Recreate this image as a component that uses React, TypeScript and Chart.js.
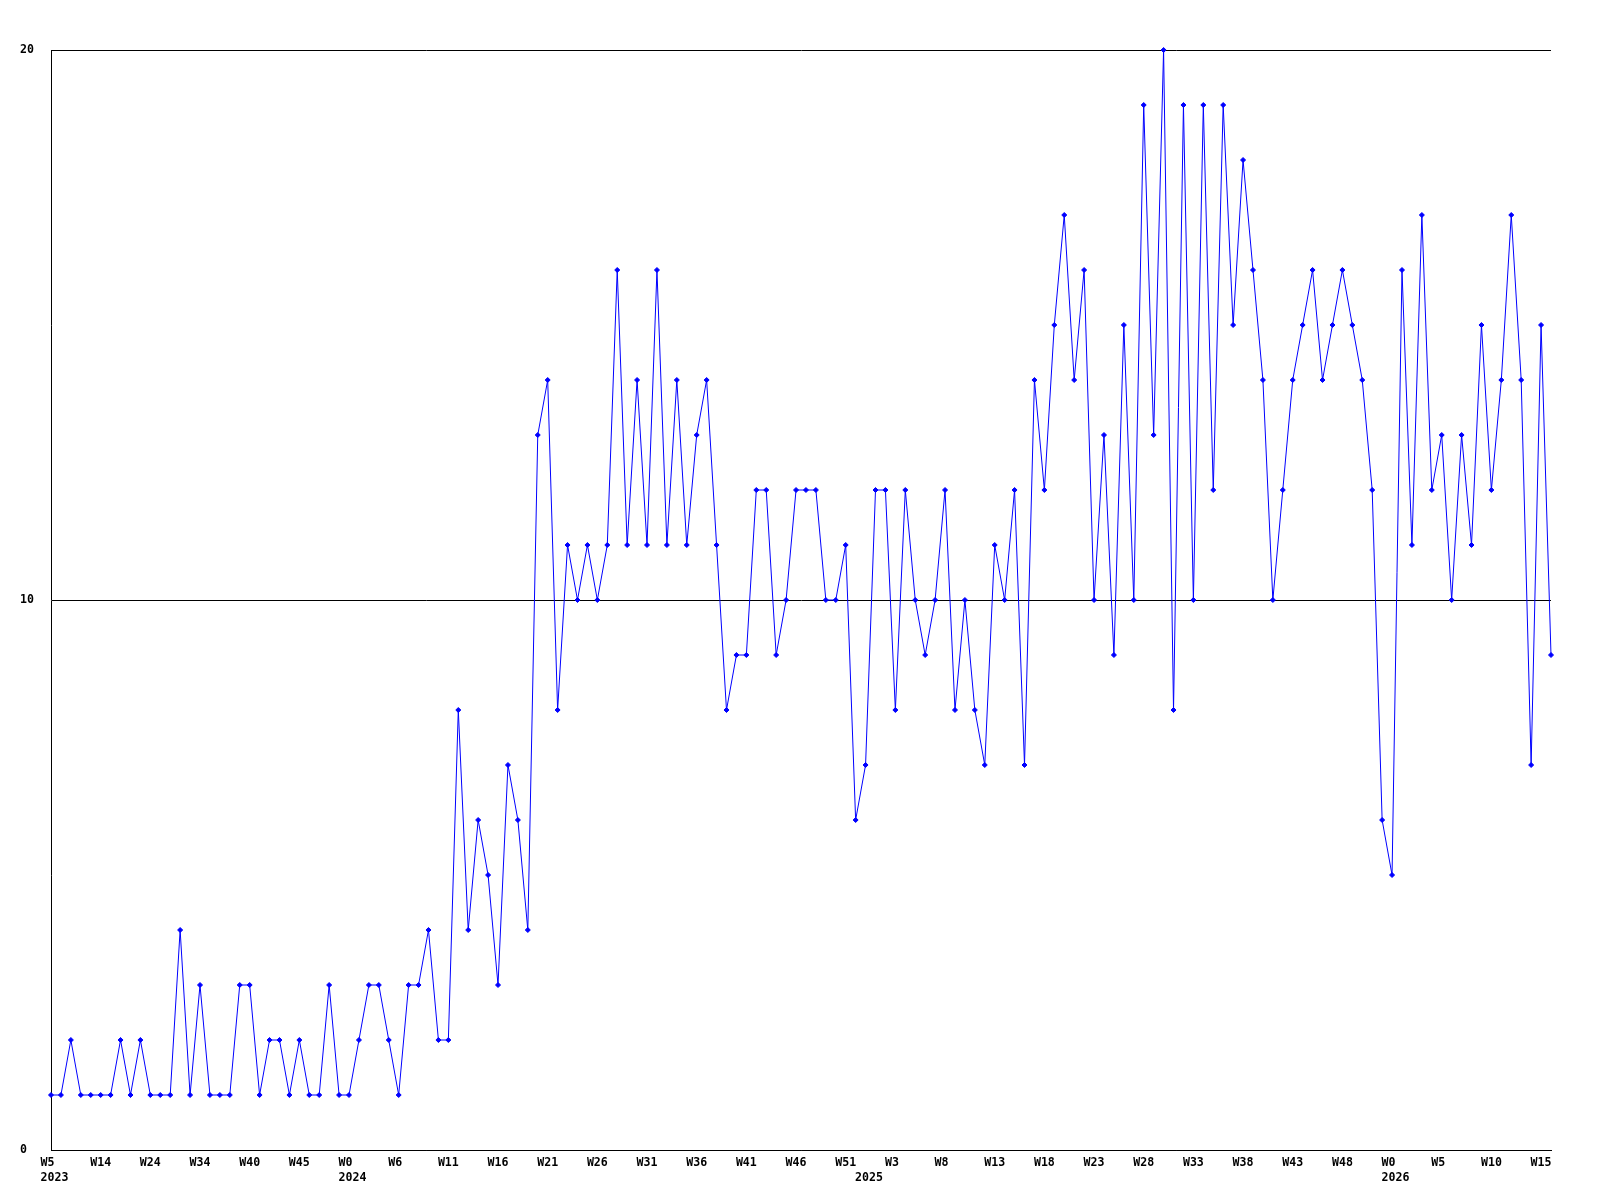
import React, { useEffect, useRef } from 'react';
import { Chart, registerables } from 'chart.js';

Chart.register(...registerables);

// Weekly counts, one value per point (152 points)
const counts: number[] = [
  1, 1, 2, 1, 1, 1, 1, 2, 1, 2,
  1, 1, 1, 4, 1, 3, 1, 1, 1, 3,
  3, 1, 2, 2, 1, 2, 1, 1, 3, 1,
  1, 2, 3, 3, 2, 1, 3, 3, 4, 2,
  2, 8, 4, 6, 5, 3, 7, 6, 4, 13,
  14, 8, 11, 10, 11, 10, 11, 16, 11, 14,
  11, 16, 11, 14, 11, 13, 14, 11, 8, 9,
  9, 12, 12, 9, 10, 12, 12, 12, 10, 10,
  11, 6, 7, 12, 12, 8, 12, 10, 9, 10,
  12, 8, 10, 8, 7, 11, 10, 12, 7, 14,
  12, 15, 17, 14, 16, 10, 13, 9, 15, 10,
  19, 13, 20, 8, 19, 10, 19, 12, 19, 15,
  18, 16, 14, 10, 12, 14, 15, 16, 14, 15,
  16, 15, 14, 12, 6, 5, 16, 11, 17, 12,
  13, 10, 13, 11, 15, 12, 14, 17, 14, 7,
  15, 9,
];

// Week tick labels, shown on every 5th point
const weekLabels: string[] = [
  'W5', 'W14', 'W24', 'W34', 'W40', 'W45', 'W0', 'W6', 'W11', 'W16',
  'W21', 'W26', 'W31', 'W36', 'W41', 'W46', 'W51', 'W3', 'W8', 'W13',
  'W18', 'W23', 'W28', 'W33', 'W38', 'W43', 'W48', 'W0', 'W5', 'W10',
  'W15',
];
const weekEvery = 5;

// Year labels and the point index where each year starts
const yearLabels: string[] = ['2023', '2024', '2025', '2026'];
const yearStarts: number[] = [0, 30, 82, 135];

// Y axis ticks
const yTicks: number[] = [0, 10, 20];

export default function App() {
  const ref = useRef<HTMLCanvasElement>(null);

  useEffect(() => {
    if (!ref.current) return;
    const font = {
      family: '"DejaVu Sans Mono", "Liberation Mono", monospace',
      size: 11.6,
      weight: 'bold' as const,
      lineHeight: 15 / 11.6,
    };
    const chart = new Chart(ref.current, {
      type: 'line',
      data: {
        labels: counts.map((_, i) => String(i)),
        datasets: [
          {
            data: counts,
            borderColor: '#0000ff',
            backgroundColor: '#0000ff',
            borderWidth: 1,
            pointStyle: 'rectRot',
            pointRadius: 2.5,
            pointBorderWidth: 1,
            pointBorderColor: '#0000ff',
            pointBackgroundColor: '#0000ff',
            tension: 0,
            fill: false,
            clip: false as any,
          },
        ],
      },
      options: {
        responsive: false,
        animation: false,
        devicePixelRatio: 1,
        layout: { padding: { left: 20, top: 50, right: 49, bottom: 0 } },
        plugins: {
          legend: { display: false },
          tooltip: { enabled: false },
        },
        scales: {
          x: {
            type: 'category',
            offset: false,
            grid: { display: false, drawTicks: false },
            border: { display: true, color: '#000000', width: 1 },
            ticks: {
              autoSkip: false,
              maxRotation: 0,
              minRotation: 0,
              padding: 5,
              color: '#000000',
              font,
              callback: (_value: any, index: number) => {
                const w = index % weekEvery === 0 ? weekLabels[index / weekEvery] : undefined;
                const yi = yearStarts.indexOf(index);
                if (w === undefined && yi < 0) return null;
                const top = w === undefined ? '' : w.padEnd(3, ' ');
                if (yi < 0) return top;
                return [top, ' ' + yearLabels[yi]];
              },
            },
            afterFit: (s: any) => {
              s.height = 50;
            },
          },
          y: {
            min: 0,
            max: 20,
            afterBuildTicks: (s: any) => {
              s.ticks = yTicks.map((v) => ({ value: v }));
            },
            grid: { color: '#000000', lineWidth: 1, drawTicks: false },
            border: { display: true, color: '#000000', width: 1 },
            ticks: {
              crossAlign: 'far',
              padding: 0,
              color: '#000000',
              font,
            },
            afterFit: (s: any) => {
              s.width = 31;
            },
          },
        },
      },
    });
    return () => chart.destroy();
  }, []);

  return (
    <div style={{ position: 'absolute', left: 0, top: 0, width: 1600, height: 1200, background: '#ffffff' }}>
      <canvas ref={ref} width={1600} height={1200} style={{ display: 'block' }} />
    </div>
  );
}
